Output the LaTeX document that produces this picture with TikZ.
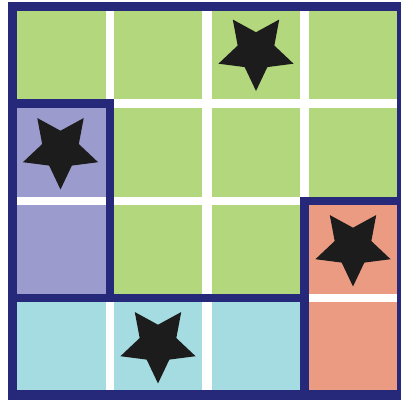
\documentclass[tikz,border=0pt]{standalone}
\usetikzlibrary{shapes.geometric}
\definecolor{gcell}{RGB}{179,215,125}
\definecolor{pcell}{RGB}{155,155,205}
\definecolor{ccell}{RGB}{165,220,225}
\definecolor{rcell}{RGB}{235,155,130}
\definecolor{dblue}{RGB}{38,40,122}
\definecolor{starblk}{RGB}{28,28,28}
\tikzset{
  starmark/.style={star, star points=5, star point ratio=2.05, shape border rotate=180,
    minimum size=79pt, inner sep=0pt, outer sep=0pt, fill=starblk, draw=none},
  wall/.style={fill=dblue, draw=none}
}
\begin{document}
\begin{tikzpicture}[x=1pt,y=-1pt]
\useasboundingbox (0,0) rectangle (401,404);
\fill[white] (0,0) rectangle (401,404);
\clip (0,0) rectangle (401,404);
% outer frame
\fill[dblue] (8,2) rectangle (406,400);
\fill[white] (17,11) rectangle (397,390);
% cells
\def\xa{17}\def\xb{105.5}
\def\xc{113.5}\def\xd{202}
\def\xe{211.5}\def\xf{300}
\def\xg{308.5}\def\xh{397}
\def\ya{11}\def\yb{98.5}
\def\yc{108}\def\yd{196.5}
\def\ye{205}\def\yf{293.5}
\def\yg{302}\def\yh{390}
% row 1
\fill[gcell] (\xa,\ya) rectangle (\xb,\yb);
\fill[gcell] (\xc,\ya) rectangle (\xd,\yb);
\fill[gcell] (\xe,\ya) rectangle (\xf,\yb);
\fill[gcell] (\xg,\ya) rectangle (\xh,\yb);
% row 2
\fill[pcell] (\xa,\yc) rectangle (\xb,\yd);
\fill[gcell] (\xc,\yc) rectangle (\xd,\yd);
\fill[gcell] (\xe,\yc) rectangle (\xf,\yd);
\fill[gcell] (\xg,\yc) rectangle (\xh,\yd);
% row 3
\fill[pcell] (\xa,\ye) rectangle (\xb,\yf);
\fill[gcell] (\xc,\ye) rectangle (\xd,\yf);
\fill[gcell] (\xe,\ye) rectangle (\xf,\yf);
\fill[rcell] (\xg,\ye) rectangle (\xh,\yf);
% row 4
\fill[ccell] (\xa,\yg) rectangle (\xb,\yh);
\fill[ccell] (\xc,\yg) rectangle (\xd,\yh);
\fill[ccell] (\xe,\yg) rectangle (\xf,\yh);
\fill[rcell] (\xg,\yg) rectangle (\xh,\yh);
% region walls
\fill[wall] (8,\yb) rectangle (\xc,\yc);
\fill[wall] (\xb,\yb) rectangle (\xc,\yg);
\fill[wall] (8,\yf) rectangle (\xg,\yg);
\fill[wall] (\xf,\yd) rectangle (\xg,400);
\fill[wall] (\xf,\yd) rectangle (406,\ye);
% stars
\node[starmark] (s1) at (256,51.5) {};
\node[starmark] (s2) at (60.5,150) {};
\node[starmark] (s3) at (353,247) {};
\node[starmark] (s4) at (158,344) {};
\end{tikzpicture}
\end{document}
